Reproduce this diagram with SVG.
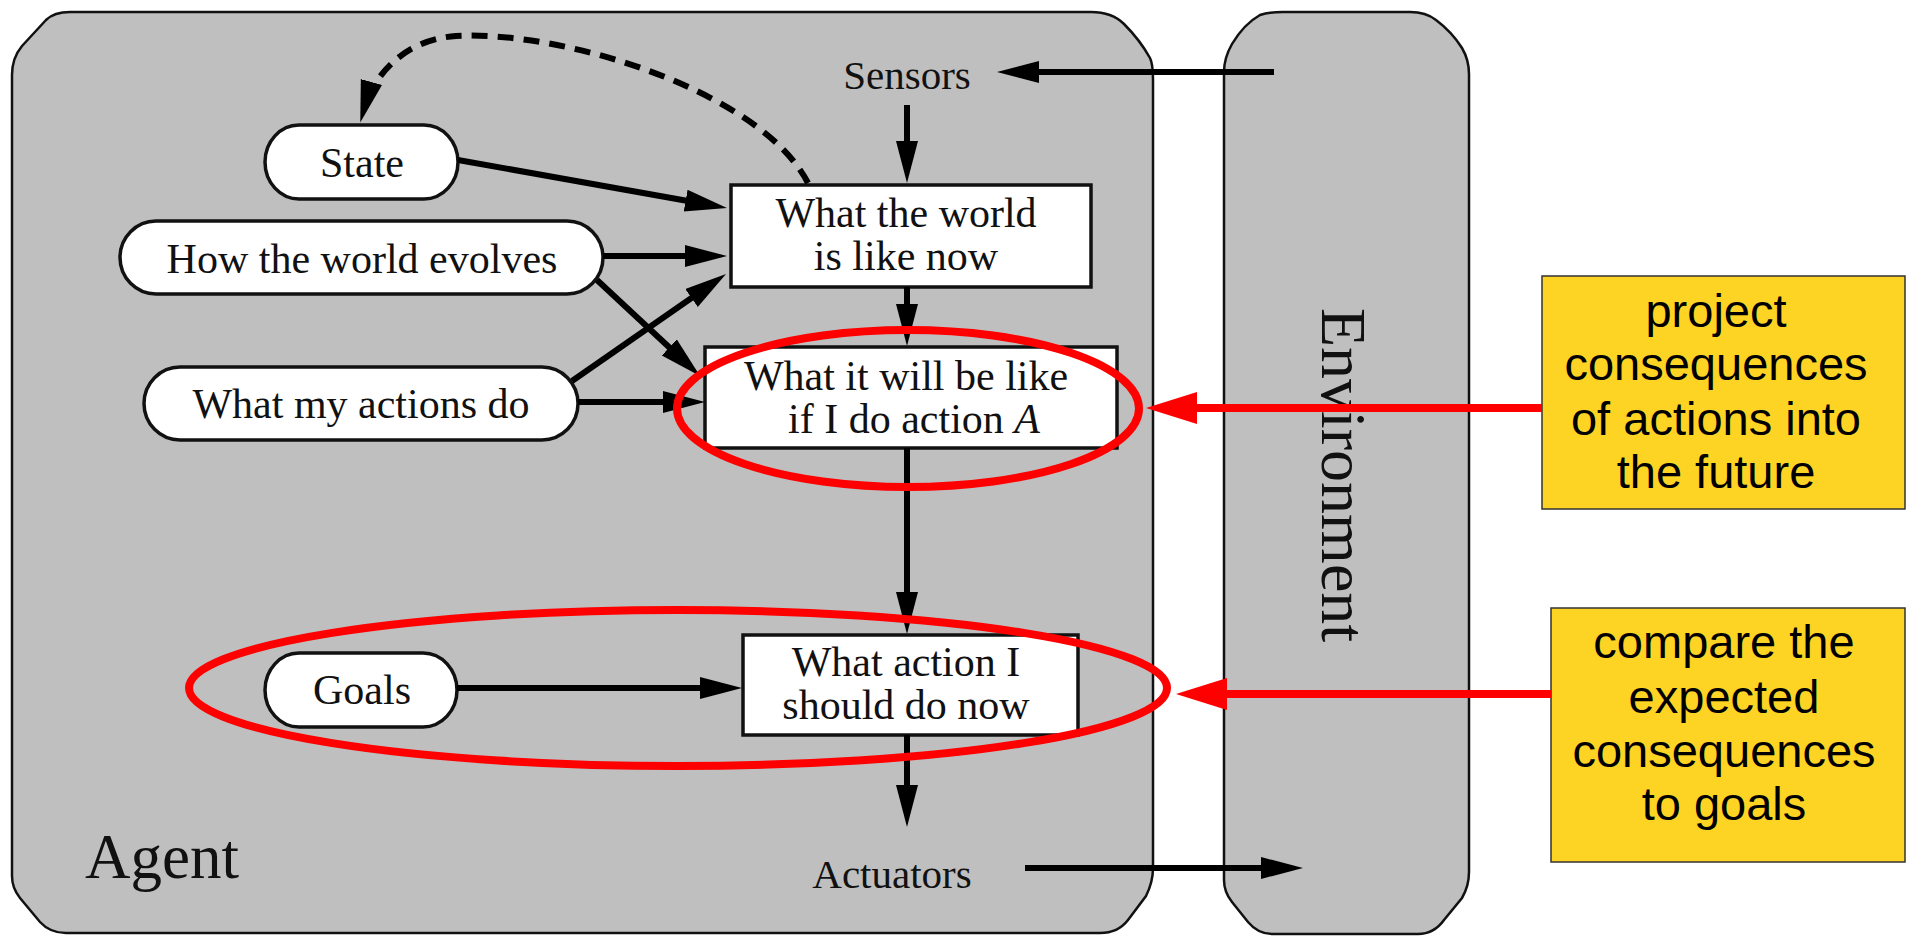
<svg xmlns="http://www.w3.org/2000/svg" width="1906" height="936" viewBox="0 0 1906 936">
<style>
.frame{fill:#bfbfbf;stroke:#111;stroke-width:2.5}
.node{fill:#fff;stroke:#111;stroke-width:3.5}
.t{font-family:"Liberation Serif","Times New Roman",serif;fill:#111;text-anchor:middle}
.n{font-size:42px}
.note{fill:#fdd324;stroke:#333;stroke-width:1.5}
.nt{font-family:"Liberation Sans",Arial,sans-serif;font-size:47px;fill:#000;text-anchor:middle}
.c{fill:none;stroke:#000;stroke-width:6;marker-end:url(#ah)}
.red{fill:none;stroke:#ff0000;stroke-width:8}
</style>
<defs>
<marker id="ah" markerUnits="userSpaceOnUse" markerWidth="44" markerHeight="24" refX="28" refY="11" orient="auto">
<path d="M0,0 L42,11 L0,22 Z" fill="#000"/>
</marker>
<marker id="rh" markerUnits="userSpaceOnUse" markerWidth="54" markerHeight="34" refX="31" refY="16" orient="auto">
<path d="M0,0 L51,16 L0,32 Z" fill="#ff0000"/>
</marker>
</defs>
<rect width="1906" height="936" fill="#fff"/>

<g id="agent">
<path class="frame" d="M12,75 Q12,58 22,46 L46,20 Q54,12 70,12 L1091,12 Q1112,12 1124,24 Q1140,40 1150,58 Q1153,64 1153,80 L1153,868 Q1153,882 1146,896 L1128,920 Q1118,933 1100,933 L66,933 Q50,933 40,922 L20,898 Q12,888 12,876 Z"/>
<text class="t" x="85" y="878" font-size="63" style="text-anchor:start">Agent</text>
</g>

<g id="environment">
<path class="frame" d="M1224,72 Q1224,58 1232,44 Q1244,24 1260,15 Q1268,12 1283,12 L1410,12 Q1426,12 1436,20 Q1452,32 1462,48 Q1469,60 1469,74 L1469,872 Q1469,886 1462,898 L1444,920 Q1434,934 1418,934 L1272,934 Q1258,934 1248,922 L1232,902 Q1224,892 1224,880 Z"/>
<text class="t" transform="translate(1322,475) rotate(90)" font-size="64">Environment</text>
</g>

<g id="sensors"><text class="t" x="907" y="89" font-size="41">Sensors</text></g>
<g id="actuators"><text class="t" x="892" y="888" font-size="41">Actuators</text></g>

<g id="state">
<rect class="node" x="265" y="125" width="193" height="74" rx="34" ry="37"/>
<text class="t n" x="362" y="177">State</text>
</g>
<g id="world-evolves">
<rect class="node" x="120" y="221" width="483" height="73" rx="36" ry="36.5"/>
<text class="t n" x="362" y="273">How the world evolves</text>
</g>
<g id="actions-do">
<rect class="node" x="144" y="367" width="434" height="73" rx="36" ry="36.5"/>
<text class="t n" x="361" y="418">What my actions do</text>
</g>
<g id="goals">
<rect class="node" x="265" y="653" width="192" height="74" rx="34" ry="37"/>
<text class="t n" x="362" y="704">Goals</text>
</g>

<g id="world-now">
<rect class="node" x="731" y="185" width="360" height="102"/>
<text class="t n" x="906" y="227">What the world</text>
<text class="t n" x="906" y="270">is like now</text>
</g>
<g id="will-be-like">
<rect class="node" x="705" y="347" width="412" height="101"/>
<text class="t n" x="906" y="390">What it will be like</text>
<text class="t n" x="914" y="433">if I do action <tspan font-style="italic">A</tspan></text>
</g>
<g id="action-now">
<rect class="node" x="743" y="635" width="335" height="100"/>
<text class="t n" x="906" y="676">What action I</text>
<text class="t n" x="906" y="719">should do now</text>
</g>

<g id="connectors">
<path class="c" d="M1274,72 L1011,72"/>
<path class="c" d="M907,105 L907,169"/>
<path class="c" d="M907,287 L907,332"/>
<path class="c" d="M458,160 L713.2,205.5"/>
<path class="c" d="M603,256 L713,256"/>
<path class="c" d="M572,381 L714.5,282"/>
<path class="c" d="M597,280 L689.8,366.5"/>
<path class="c" d="M578,402 L691,402"/>
<path class="c" d="M907,448 L907,620"/>
<path class="c" d="M457,688 L728,688"/>
<path class="c" d="M907,735 L907,813"/>
<path class="c" d="M1025,868 L1289,868"/>
<path class="c" stroke-width="5" stroke-dasharray="16 10" d="M808,183 C760,90 560,30 456,36 C400,40 372,80 364,109"/>
</g>

<g id="highlight-1">
<ellipse class="red" cx="908" cy="408.5" rx="231" ry="78.5"/>
</g>
<g id="highlight-2">
<ellipse class="red" cx="678" cy="688" rx="489" ry="78"/>
</g>

<g id="note-1">
<rect class="note" x="1542" y="276" width="363" height="233"/>
<text class="nt" x="1716" y="327">project</text>
<text class="nt" x="1716" y="380">consequences</text>
<text class="nt" x="1716" y="435">of actions into</text>
<text class="nt" x="1716" y="488">the future</text>
</g>
<g id="note-2">
<rect class="note" x="1551" y="608" width="354" height="254"/>
<text class="nt" x="1724" y="658">compare the</text>
<text class="nt" x="1724" y="713">expected</text>
<text class="nt" x="1724" y="767">consequences</text>
<text class="nt" x="1724" y="820">to goals</text>
</g>

<g id="annotation-connectors">
<path class="red" marker-end="url(#rh)" d="M1542,408 L1166,408"/>
<path class="red" marker-end="url(#rh)" d="M1551,694 L1196,694"/>
</g>
</svg>
